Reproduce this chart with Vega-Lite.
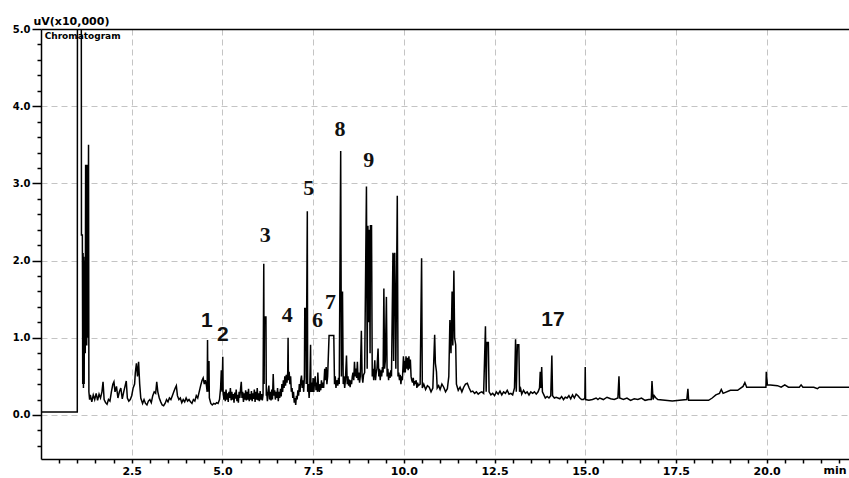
{
  "$schema": "https://vega.github.io/schema/vega-lite/v6.json",
  "width": 808,
  "height": 430,
  "autosize": {"type": "none"},
  "padding": {"left": 41, "top": 29, "right": 0, "bottom": 19},
  "background": "white",
  "config": {"view": {"stroke": null}},
  "datasets": {
    "chrom": [
      {"t":0,"v":0.04},{"t":1.0,"v":0.04},{"t":1.005,"v":6},{"t":1.11,"v":6},{"t":1.115,"v":2.33},{"t":1.14,"v":2.33},{"t":1.15,"v":0.4},{"t":1.16,"v":2.1},{"t":1.17,"v":0.35},{"t":1.18,"v":2.05},{"t":1.19,"v":0.4},{"t":1.2,"v":2.0},{"t":1.22,"v":0.8},{"t":1.23,"v":3.24},{"t":1.24,"v":1.2},{"t":1.25,"v":3.2},{"t":1.26,"v":0.9},{"t":1.27,"v":3.24},{"t":1.29,"v":1.0},{"t":1.31,"v":3.5},{"t":1.32,"v":0.3},{"t":1.34,"v":0.2},
      {"t":1.36,"v":0.26},{"t":1.4,"v":0.17},{"t":1.44,"v":0.26},{"t":1.48,"v":0.2},{"t":1.52,"v":0.28},{"t":1.56,"v":0.19},{"t":1.6,"v":0.27},{"t":1.64,"v":0.22},{"t":1.68,"v":0.3},{"t":1.71,"v":0.43},{"t":1.74,"v":0.2},{"t":1.78,"v":0.16},{"t":1.82,"v":0.14},{"t":1.86,"v":0.2},{"t":1.9,"v":0.18},{"t":1.94,"v":0.3},{"t":1.98,"v":0.4},{"t":2.01,"v":0.43},{"t":2.04,"v":0.3},{"t":2.08,"v":0.37},{"t":2.12,"v":0.22},{"t":2.16,"v":0.3},{"t":2.2,"v":0.35},{"t":2.24,"v":0.21},{"t":2.28,"v":0.3},{"t":2.32,"v":0.38},{"t":2.35,"v":0.44},{"t":2.38,"v":0.22},{"t":2.42,"v":0.18},{"t":2.46,"v":0.2},{"t":2.5,"v":0.25},{"t":2.54,"v":0.35},{"t":2.58,"v":0.4},{"t":2.6,"v":0.55},{"t":2.63,"v":0.67},{"t":2.66,"v":0.5},{"t":2.69,"v":0.69},{"t":2.72,"v":0.4},{"t":2.75,"v":0.22},{"t":2.8,"v":0.15},{"t":2.84,"v":0.2},{"t":2.88,"v":0.15},{"t":2.92,"v":0.13},{"t":2.96,"v":0.18},{"t":3.0,"v":0.2},{"t":3.04,"v":0.16},{"t":3.08,"v":0.25},{"t":3.12,"v":0.3},{"t":3.16,"v":0.28},{"t":3.19,"v":0.43},{"t":3.22,"v":0.3},{"t":3.26,"v":0.22},{"t":3.3,"v":0.17},{"t":3.34,"v":0.13},{"t":3.38,"v":0.12},{"t":3.42,"v":0.15},{"t":3.46,"v":0.2},{"t":3.5,"v":0.17},{"t":3.54,"v":0.22},{"t":3.58,"v":0.2},{"t":3.62,"v":0.25},{"t":3.66,"v":0.3},{"t":3.7,"v":0.35},{"t":3.73,"v":0.38},{"t":3.76,"v":0.25},{"t":3.8,"v":0.2},{"t":3.84,"v":0.22},{"t":3.88,"v":0.16},{"t":3.92,"v":0.2},{"t":3.96,"v":0.17},{"t":4.0,"v":0.22},{"t":4.04,"v":0.18},{"t":4.08,"v":0.2},{"t":4.12,"v":0.17},{"t":4.16,"v":0.15},{"t":4.2,"v":0.2},{"t":4.24,"v":0.18},{"t":4.28,"v":0.25},{"t":4.32,"v":0.22},{"t":4.36,"v":0.3},{"t":4.4,"v":0.38},{"t":4.44,"v":0.45},{"t":4.47,"v":0.48},{"t":4.5,"v":0.4},{"t":4.53,"v":0.45},{"t":4.56,"v":0.38},{"t":4.58,"v":0.3},{"t":4.59,"v":0.97},{"t":4.6,"v":0.3},{"t":4.61,"v":0.69},{"t":4.63,"v":0.69},{"t":4.64,"v":0.22},{"t":4.68,"v":0.15},{"t":4.72,"v":0.13},{"t":4.76,"v":0.15},{"t":4.8,"v":0.14},{"t":4.84,"v":0.16},{"t":4.88,"v":0.15},{"t":4.92,"v":0.2},{"t":4.95,"v":0.35},{"t":4.97,"v":0.58},{"t":4.99,"v":0.3},{"t":5.01,"v":0.755},{"t":5.02,"v":0.3},
      {"t":5.04,"v":0.2},{"t":5.06,"v":0.3},{"t":5.08,"v":0.18},{"t":5.1,"v":0.33},{"t":5.12,"v":0.2},{"t":5.14,"v":0.28},{"t":5.16,"v":0.17},{"t":5.18,"v":0.3},{"t":5.2,"v":0.22},{"t":5.22,"v":0.35},{"t":5.24,"v":0.19},{"t":5.26,"v":0.3},{"t":5.28,"v":0.2},{"t":5.3,"v":0.27},{"t":5.32,"v":0.16},{"t":5.34,"v":0.29},{"t":5.36,"v":0.21},{"t":5.38,"v":0.33},{"t":5.4,"v":0.18},{"t":5.42,"v":0.26},{"t":5.44,"v":0.16},{"t":5.46,"v":0.3},{"t":5.48,"v":0.22},{"t":5.5,"v":0.34},{"t":5.52,"v":0.43},{"t":5.54,"v":0.22},{"t":5.56,"v":0.3},{"t":5.58,"v":0.17},{"t":5.6,"v":0.28},{"t":5.62,"v":0.2},{"t":5.64,"v":0.32},{"t":5.66,"v":0.19},{"t":5.68,"v":0.3},{"t":5.7,"v":0.2},{"t":5.72,"v":0.34},{"t":5.74,"v":0.18},{"t":5.76,"v":0.27},{"t":5.78,"v":0.2},{"t":5.8,"v":0.31},{"t":5.82,"v":0.18},{"t":5.84,"v":0.28},{"t":5.86,"v":0.21},{"t":5.88,"v":0.33},{"t":5.9,"v":0.17},{"t":5.92,"v":0.3},{"t":5.94,"v":0.2},{"t":5.96,"v":0.35},{"t":5.98,"v":0.19},{"t":6.0,"v":0.28},{"t":6.02,"v":0.18},{"t":6.04,"v":0.31},{"t":6.06,"v":0.2},{"t":6.08,"v":0.27},{"t":6.1,"v":0.19},{"t":6.12,"v":0.26},
      {"t":6.14,"v":1.96},{"t":6.15,"v":0.4},{"t":6.16,"v":1.27},{"t":6.2,"v":1.27},{"t":6.21,"v":0.25},
      {"t":6.22,"v":0.3},{"t":6.24,"v":0.18},{"t":6.26,"v":0.32},{"t":6.28,"v":0.38},{"t":6.3,"v":0.2},{"t":6.32,"v":0.3},{"t":6.34,"v":0.19},{"t":6.36,"v":0.33},{"t":6.38,"v":0.2},{"t":6.4,"v":0.53},{"t":6.42,"v":0.25},{"t":6.44,"v":0.32},{"t":6.46,"v":0.2},{"t":6.48,"v":0.3},{"t":6.5,"v":0.22},{"t":6.52,"v":0.35},{"t":6.54,"v":0.18},{"t":6.56,"v":0.3},{"t":6.58,"v":0.22},{"t":6.6,"v":0.34},{"t":6.62,"v":0.24},{"t":6.64,"v":0.4},{"t":6.66,"v":0.3},{"t":6.68,"v":0.45},{"t":6.7,"v":0.35},{"t":6.72,"v":0.5},{"t":6.74,"v":0.38},{"t":6.76,"v":0.52},{"t":6.78,"v":0.42},{"t":6.8,"v":0.55},{"t":6.81,"v":1.0},{"t":6.82,"v":0.45},{"t":6.84,"v":0.56},{"t":6.86,"v":0.4},{"t":6.88,"v":0.5},{"t":6.9,"v":0.3},{"t":6.92,"v":0.35},{"t":6.94,"v":0.22},{"t":6.96,"v":0.3},{"t":6.98,"v":0.16},{"t":7.0,"v":0.22},{"t":7.02,"v":0.13},{"t":7.04,"v":0.25},{"t":7.06,"v":0.2},{"t":7.08,"v":0.32},{"t":7.1,"v":0.25},{"t":7.12,"v":0.4},{"t":7.14,"v":0.3},{"t":7.16,"v":0.45},{"t":7.18,"v":0.51},{"t":7.2,"v":0.35},{"t":7.22,"v":0.45},{"t":7.24,"v":0.3},{"t":7.26,"v":0.5},
      {"t":7.27,"v":1.38},{"t":7.3,"v":1.38},{"t":7.31,"v":0.4},{"t":7.34,"v":2.64},{"t":7.35,"v":0.3},{"t":7.37,"v":0.4},{"t":7.39,"v":0.22},{"t":7.41,"v":0.4},{"t":7.43,"v":0.91},{"t":7.44,"v":0.3},{"t":7.46,"v":0.42},{"t":7.48,"v":0.3},{"t":7.5,"v":0.48},{"t":7.52,"v":0.3},{"t":7.54,"v":0.45},{"t":7.56,"v":0.5},{"t":7.58,"v":0.32},{"t":7.6,"v":0.42},{"t":7.62,"v":0.3},{"t":7.63,"v":0.55},{"t":7.65,"v":0.35},{"t":7.67,"v":0.3},{"t":7.69,"v":0.4},{"t":7.71,"v":0.32},{"t":7.73,"v":0.45},{"t":7.75,"v":0.35},{"t":7.77,"v":0.42},{"t":7.79,"v":0.35},{"t":7.82,"v":0.6},{"t":7.84,"v":0.45},{"t":7.86,"v":0.62},{"t":7.88,"v":0.4},{"t":7.9,"v":0.5},{"t":7.94,"v":1.03},{"t":8.07,"v":1.03},{"t":8.09,"v":0.4},{"t":8.11,"v":0.5},{"t":8.13,"v":0.35},{"t":8.15,"v":0.45},{"t":8.18,"v":0.38},{"t":8.2,"v":0.48},{"t":8.22,"v":0.4},{"t":8.26,"v":3.42},{"t":8.28,"v":0.5},{"t":8.31,"v":1.6},{"t":8.33,"v":0.4},{"t":8.35,"v":0.5},{"t":8.37,"v":0.35},{"t":8.39,"v":0.45},{"t":8.42,"v":0.77},{"t":8.44,"v":0.4},{"t":8.46,"v":0.5},{"t":8.48,"v":0.38},{"t":8.5,"v":0.46},{"t":8.52,"v":0.36},{"t":8.54,"v":0.45},{"t":8.56,"v":0.4},{"t":8.58,"v":0.5},{"t":8.6,"v":0.55},{"t":8.62,"v":0.45},{"t":8.64,"v":0.69},{"t":8.66,"v":0.5},{"t":8.68,"v":0.6},{"t":8.7,"v":0.48},{"t":8.72,"v":0.69},{"t":8.74,"v":0.45},{"t":8.76,"v":0.55},{"t":8.78,"v":0.42},{"t":8.8,"v":0.5},{"t":8.83,"v":1.09},{"t":8.85,"v":0.5},{"t":8.87,"v":0.42},{"t":8.89,"v":0.52},{"t":8.92,"v":0.55},{"t":8.97,"v":2.96},{"t":8.99,"v":0.6},{"t":9.01,"v":2.45},{"t":9.03,"v":1.2},{"t":9.05,"v":2.4},{"t":9.07,"v":0.8},{"t":9.08,"v":2.45},{"t":9.11,"v":2.45},{"t":9.13,"v":0.5},{"t":9.15,"v":0.6},{"t":9.17,"v":0.45},{"t":9.2,"v":0.71},{"t":9.22,"v":0.45},{"t":9.24,"v":0.55},{"t":9.26,"v":0.6},{"t":9.29,"v":0.86},{"t":9.31,"v":0.5},{"t":9.33,"v":0.6},{"t":9.35,"v":0.45},{"t":9.37,"v":0.58},{"t":9.39,"v":0.5},{"t":9.41,"v":0.62},{"t":9.43,"v":0.55},{"t":9.45,"v":1.64},{"t":9.47,"v":0.6},{"t":9.49,"v":0.7},{"t":9.52,"v":1.53},{"t":9.54,"v":0.5},{"t":9.56,"v":0.6},{"t":9.58,"v":0.45},{"t":9.6,"v":0.55},{"t":9.62,"v":0.48},{"t":9.64,"v":0.58},{"t":9.66,"v":0.5},{"t":9.7,"v":2.1},{"t":9.72,"v":0.7},{"t":9.73,"v":2.05},{"t":9.75,"v":2.1},{"t":9.78,"v":0.6},{"t":9.82,"v":2.84},{"t":9.84,"v":0.5},{"t":9.86,"v":0.55},{"t":9.88,"v":0.45},{"t":9.9,"v":0.52},{"t":9.92,"v":0.4},{"t":9.94,"v":0.5},{"t":9.96,"v":0.45},{"t":9.99,"v":0.76},{"t":10.01,"v":0.55},{"t":10.02,"v":0.7},{"t":10.04,"v":0.55},{"t":10.06,"v":0.76},{"t":10.08,"v":0.6},{"t":10.1,"v":0.74},{"t":10.12,"v":0.58},{"t":10.14,"v":0.76},{"t":10.16,"v":0.6},{"t":10.18,"v":0.72},{"t":10.2,"v":0.5},{"t":10.22,"v":0.45},{"t":10.24,"v":0.42},{"t":10.26,"v":0.48},{"t":10.28,"v":0.38},{"t":10.3,"v":0.44},{"t":10.32,"v":0.4},{"t":10.34,"v":0.45},{"t":10.36,"v":0.35},{"t":10.38,"v":0.42},{"t":10.4,"v":0.38},{"t":10.45,"v":0.4},{"t":10.49,"v":2.03},{"t":10.51,"v":0.35},{"t":10.55,"v":0.4},{"t":10.6,"v":0.33},{"t":10.65,"v":0.38},{"t":10.7,"v":0.36},{"t":10.75,"v":0.3},{"t":10.8,"v":0.35},{"t":10.85,"v":1.04},{"t":10.87,"v":0.67},{"t":10.9,"v":0.56},{"t":10.92,"v":0.35},{"t":10.96,"v":0.38},{"t":11.0,"v":0.33},{"t":11.05,"v":0.4},{"t":11.1,"v":0.36},{"t":11.15,"v":0.3},{"t":11.2,"v":0.34},{"t":11.24,"v":0.5},{"t":11.27,"v":1.23},{"t":11.3,"v":0.8},{"t":11.33,"v":1.6},{"t":11.35,"v":0.9},{"t":11.38,"v":1.87},{"t":11.4,"v":1.0},{"t":11.43,"v":0.91},{"t":11.45,"v":0.4},{"t":11.5,"v":0.32},{"t":11.55,"v":0.36},{"t":11.6,"v":0.3},{"t":11.65,"v":0.36},{"t":11.7,"v":0.4},{"t":11.75,"v":0.41},{"t":11.8,"v":0.35},{"t":11.85,"v":0.3},{"t":11.9,"v":0.31},{"t":11.95,"v":0.28},{"t":12.0,"v":0.3},{"t":12.05,"v":0.27},{"t":12.1,"v":0.29},{"t":12.15,"v":0.3},{"t":12.2,"v":0.28},{"t":12.25,"v":1.15},{"t":12.27,"v":0.3},{"t":12.29,"v":0.94},{"t":12.33,"v":0.94},{"t":12.35,"v":0.3},{"t":12.4,"v":0.26},{"t":12.45,"v":0.28},{"t":12.5,"v":0.25},{"t":12.55,"v":0.3},{"t":12.6,"v":0.27},{"t":12.65,"v":0.31},{"t":12.7,"v":0.26},{"t":12.75,"v":0.3},{"t":12.8,"v":0.28},{"t":12.85,"v":0.32},{"t":12.9,"v":0.27},{"t":12.95,"v":0.28},{"t":13.0,"v":0.26},{"t":13.05,"v":0.35},{"t":13.08,"v":0.98},{"t":13.1,"v":0.3},{"t":13.13,"v":0.91},{"t":13.17,"v":0.91},{"t":13.19,"v":0.3},{"t":13.22,"v":0.34},{"t":13.25,"v":0.27},{"t":13.3,"v":0.32},{"t":13.35,"v":0.28},{"t":13.4,"v":0.3},{"t":13.45,"v":0.26},{"t":13.5,"v":0.3},{"t":13.55,"v":0.28},{"t":13.6,"v":0.3},{"t":13.65,"v":0.27},{"t":13.7,"v":0.3},{"t":13.74,"v":0.35},{"t":13.76,"v":0.56},{"t":13.78,"v":0.35},{"t":13.8,"v":0.62},{"t":13.82,"v":0.3},{"t":13.86,"v":0.26},{"t":13.9,"v":0.22},{"t":13.95,"v":0.24},{"t":14.0,"v":0.22},{"t":14.05,"v":0.25},{"t":14.08,"v":0.77},{"t":14.1,"v":0.25},{"t":14.15,"v":0.22},{"t":14.2,"v":0.23},{"t":14.3,"v":0.21},{"t":14.35,"v":0.24},{"t":14.4,"v":0.2},{"t":14.45,"v":0.23},{"t":14.5,"v":0.22},{"t":14.55,"v":0.25},{"t":14.6,"v":0.21},{"t":14.65,"v":0.26},{"t":14.7,"v":0.22},{"t":14.75,"v":0.27},{"t":14.8,"v":0.25},{"t":14.85,"v":0.22},{"t":14.9,"v":0.2},{"t":14.95,"v":0.2},{"t":14.99,"v":0.22},{"t":15.0,"v":0.62},{"t":15.01,"v":0.2},{"t":15.1,"v":0.19},{"t":15.2,"v":0.2},{"t":15.3,"v":0.22},{"t":15.35,"v":0.2},{"t":15.4,"v":0.22},{"t":15.5,"v":0.2},{"t":15.6,"v":0.23},{"t":15.7,"v":0.21},{"t":15.8,"v":0.2},{"t":15.9,"v":0.22},{"t":15.93,"v":0.5},{"t":15.95,"v":0.22},{"t":16.05,"v":0.2},{"t":16.15,"v":0.22},{"t":16.25,"v":0.19},{"t":16.35,"v":0.21},{"t":16.45,"v":0.2},{"t":16.55,"v":0.22},{"t":16.65,"v":0.19},{"t":16.75,"v":0.2},{"t":16.82,"v":0.2},{"t":16.84,"v":0.44},{"t":16.87,"v":0.2},{"t":16.9,"v":0.25},{"t":16.95,"v":0.22},{"t":17.0,"v":0.2},{"t":17.2,"v":0.19},{"t":17.4,"v":0.18},{"t":17.6,"v":0.19},{"t":17.8,"v":0.2},{"t":17.83,"v":0.34},{"t":17.85,"v":0.19},{"t":18.0,"v":0.19},{"t":18.4,"v":0.19},{"t":18.5,"v":0.22},{"t":18.6,"v":0.26},{"t":18.7,"v":0.28},{"t":18.75,"v":0.33},{"t":18.8,"v":0.28},{"t":19.0,"v":0.32},{"t":19.2,"v":0.32},{"t":19.35,"v":0.37},{"t":19.4,"v":0.42},{"t":19.45,"v":0.36},{"t":19.6,"v":0.36},{"t":19.98,"v":0.36},{"t":19.99,"v":0.56},{"t":20.02,"v":0.39},{"t":20.1,"v":0.39},{"t":20.3,"v":0.38},{"t":20.4,"v":0.36},{"t":20.5,"v":0.39},{"t":20.6,"v":0.36},{"t":20.9,"v":0.36},{"t":20.95,"v":0.39},{"t":21.0,"v":0.36},{"t":21.3,"v":0.36},{"t":21.4,"v":0.34},{"t":21.45,"v":0.36},{"t":22.27,"v":0.36}
    ],
    "peaks": [
      {"t":4.57,"v":1.22,"label":"1"},{"t":5.01,"v":1.04,"label":"2"},{"t":6.18,"v":2.33,"label":"3"},{"t":6.79,"v":1.3,"label":"4"},{"t":7.38,"v":2.94,"label":"5"},{"t":7.62,"v":1.23,"label":"6"},{"t":7.98,"v":1.46,"label":"7"},{"t":8.24,"v":3.7,"label":"8"},{"t":9.03,"v":3.3,"label":"9"},{"t":14.11,"v":1.23,"label":"17"}
    ],
    "head": [{"t":0.1,"v":5.0,"label":"Chromatogram"}],
    "unit": [{"t":21.57,"v":-0.57,"label":"min"}]
  },
  "resolve": {"axis": {"x": "independent", "y": "independent"}},
  "layer": [
    {
      "data": {"name": "chrom"},
      "mark": {"type": "line", "color": "black", "strokeWidth": 1.5, "clip": true},
      "encoding": {
        "x": {"field": "t", "type": "quantitative",
          "scale": {"domain": [0, 22.27], "nice": false, "zero": false},
          "axis": {
            "title": null,
            "values": [0.5,1,1.5,2,2.5,3,3.5,4,4.5,5,5.5,6,6.5,7,7.5,8,8.5,9,9.5,10,10.5,11,11.5,12,12.5,13,13.5,14,14.5,15,15.5,16,16.5,17,17.5,18,18.5,19,19.5,20,20.5,21,21.5,22],
            "labelExpr": "abs(datum.value/2.5 - round(datum.value/2.5)) < 0.001 ? format(datum.value, '.1f') : ''",
            "labelOverlap": false,
            "labelFont": "DejaVu Sans", "labelFontSize": 11, "labelFontWeight": "bold", "labelColor": "black", "labelPadding": 2,
            "tickSize": 4, "tickColor": "black", "tickWidth": 1.5,
            "domainColor": "black", "domainWidth": 1.5,
            "grid": true, "gridColor": "#c4c4c4", "gridDash": [6, 4], "gridWidth": 1,
            "gridOpacity": {"condition": {"test": "abs(datum.value/2.5 - round(datum.value/2.5)) < 0.001", "value": 1}, "value": 0}
          }
        },
        "y": {"field": "v", "type": "quantitative",
          "scale": {"domain": [-0.57, 5.0], "nice": false, "zero": false},
          "axis": {
            "title": "uV(x10,000)", "titleAngle": 0, "titleAlign": "left", "titleBaseline": "alphabetic",
            "titleX": -8, "titleY": -5, "titleFont": "DejaVu Sans", "titleFontSize": 11, "titleFontWeight": "bold", "titleColor": "black",
            "values": [-0.4,-0.2,0,0.2,0.4,0.6,0.8,1,1.2,1.4,1.6,1.8,2,2.2,2.4,2.6,2.8,3,3.2,3.4,3.6,3.8,4,4.2,4.4,4.6,4.8,5],
            "labelExpr": "abs(datum.value - round(datum.value)) < 0.001 ? format(datum.value, '.1f') : ''",
            "labelOverlap": false,
            "labelFont": "DejaVu Sans", "labelFontSize": 10, "labelFontWeight": "bold", "labelColor": "black", "labelPadding": 2,
            "tickSize": {"condition": {"test": "abs(datum.value - round(datum.value)) < 0.001", "value": 9}, "value": 4},
            "tickColor": "black", "tickWidth": 1.5,
            "domainColor": "black", "domainWidth": 1.5,
            "grid": true, "gridColor": "#c4c4c4", "gridDash": [6, 4], "gridWidth": 1,
            "gridOpacity": {"condition": {"test": "abs(datum.value - round(datum.value)) < 0.001 && datum.value < 4.5", "value": 1}, "value": 0}
          }
        }
      }
    },
    {
      "data": {"name": "head"},
      "mark": {"type": "text", "align": "left", "baseline": "top", "dy": 3, "font": "DejaVu Sans", "fontSize": 9, "fontWeight": "bold", "color": "black"},
      "encoding": {
        "x": {"field": "t", "type": "quantitative",
          "axis": {"orient": "top", "title": null, "labels": false, "ticks": false, "grid": false, "domain": true, "domainColor": "black", "domainWidth": 1.5}},
        "y": {"field": "v", "type": "quantitative", "axis": null},
        "text": {"field": "label"}
      }
    },
    {
      "data": {"name": "unit"},
      "mark": {"type": "text", "align": "left", "baseline": "top", "dy": 6, "font": "DejaVu Sans", "fontSize": 11, "fontWeight": "bold", "color": "black", "clip": false},
      "encoding": {
        "x": {"field": "t", "type": "quantitative", "axis": null},
        "y": {"field": "v", "type": "quantitative", "axis": null},
        "text": {"field": "label"}
      }
    },
    {
      "data": {"name": "peaks"},
      "transform": [{"filter": "indexof(['1','2','17'], datum.label) >= 0"}],
      "mark": {"type": "text", "align": "center", "baseline": "middle", "font": "Liberation Sans", "fontSize": 21, "fontWeight": "bold", "color": "#111111"},
      "encoding": {
        "x": {"field": "t", "type": "quantitative", "axis": null},
        "y": {"field": "v", "type": "quantitative", "axis": null},
        "text": {"field": "label"}
      }
    },
    {
      "data": {"name": "peaks"},
      "transform": [{"filter": "indexof(['1','2','17'], datum.label) < 0"}],
      "mark": {"type": "text", "align": "center", "baseline": "middle", "font": "Liberation Serif", "fontSize": 22, "fontWeight": "bold", "color": "#111111"},
      "encoding": {
        "x": {"field": "t", "type": "quantitative", "axis": null},
        "y": {"field": "v", "type": "quantitative", "axis": null},
        "text": {"field": "label"}
      }
    }
  ]
}
